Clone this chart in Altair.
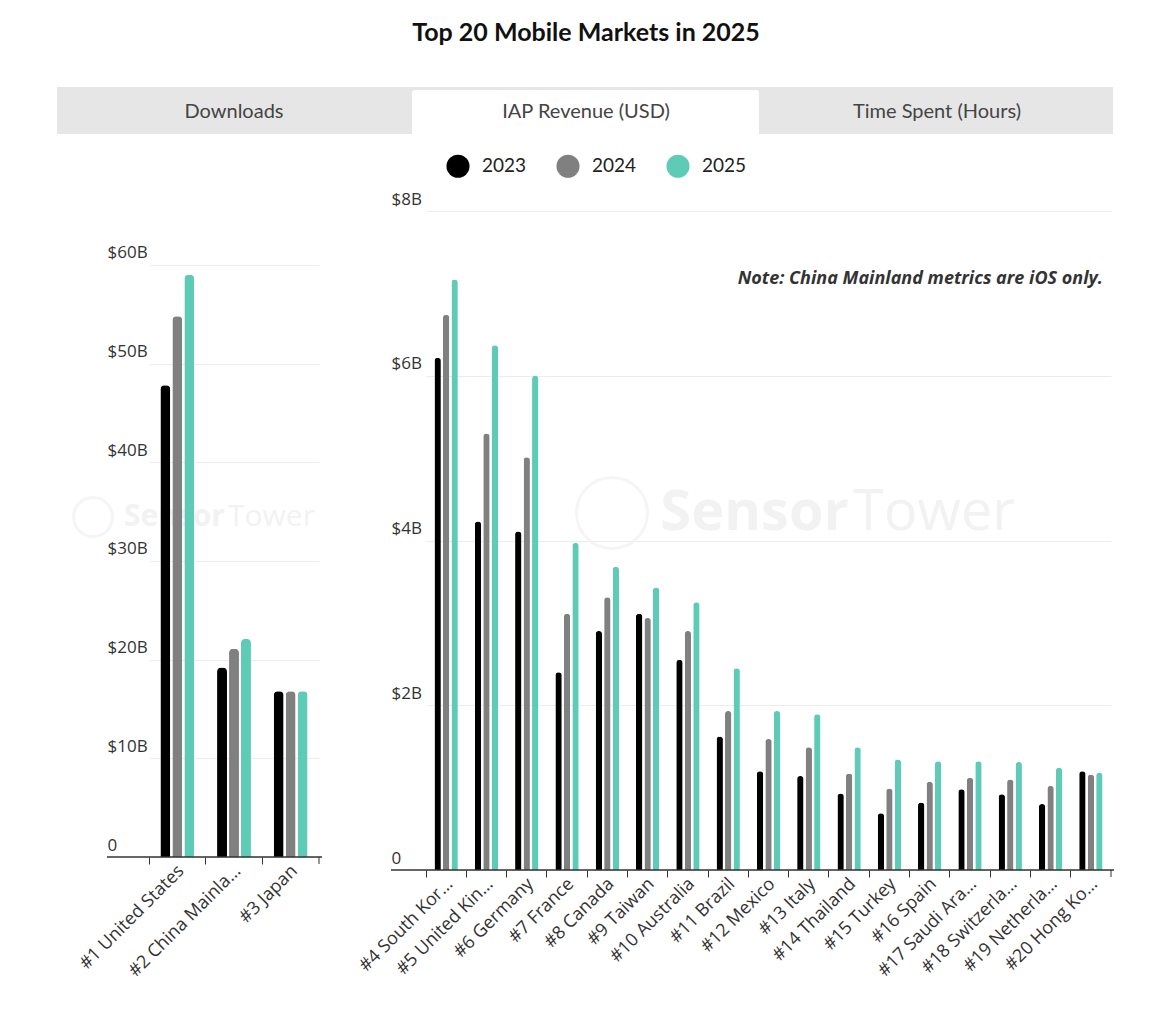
import altair as alt
import pandas as pd

TITLE = "Top 20 Mobile Markets in 2025"
TABS = ["Downloads", "IAP Revenue (USD)", "Time Spent (Hours)"]
NOTE = "Note: China Mainland metrics are iOS only."
YEARS = ["2023", "2024", "2025"]
COLORS = ["#000000", "#808080", "#5ecbb7"]

MARKETS = [
    "#1 United States", "#2 China Mainla…", "#3 Japan",
    "#4 South Kor…", "#5 United Kin…", "#6 Germany", "#7 France", "#8 Canada",
    "#9 Taiwan", "#10 Australia", "#11 Brazil", "#12 Mexico", "#13 Italy",
    "#14 Thailand", "#15 Turkey", "#16 Spain", "#17 Saudi Ara…",
    "#18 Switzerla…", "#19 Netherla…", "#20 Hong Ko…",
]
# IAP revenue, billions USD
REV_2023 = [47.8, 19.2, 16.8, 6.22, 4.23, 4.11, 2.40, 2.90, 3.11, 2.55,
            1.62, 1.20, 1.14, 0.93, 0.69, 0.82, 0.98, 0.92, 0.80, 1.20]
REV_2024 = [54.8, 21.1, 16.8, 6.74, 5.30, 5.01, 3.11, 3.31, 3.06, 2.90,
            1.93, 1.59, 1.49, 1.17, 0.99, 1.07, 1.12, 1.10, 1.02, 1.16]
REV_2025 = [59.0, 22.1, 16.8, 7.17, 6.37, 6.00, 3.97, 3.68, 3.43, 3.25,
            2.45, 1.93, 1.89, 1.49, 1.34, 1.32, 1.32, 1.31, 1.24, 1.18]
LEFT_TICKS = [0, 10, 20, 30, 40, 50, 60]
RIGHT_TICKS = [0, 2, 4, 6, 8]

rows = []
for i, m in enumerate(MARKETS):
    for yr, vals in zip(YEARS, [REV_2023, REV_2024, REV_2025]):
        rows.append({"market": m, "rank": i + 1, "year": yr, "value": vals[i]})
df = pd.DataFrame(rows)
left_df = df[df["rank"] <= 3]
right_df = df[df["rank"] > 3]
LEFT_MARKETS = MARKETS[:3]
RIGHT_MARKETS = MARKETS[3:]

AXIS_FONT = "Open Sans"
HEAD_FONT = "Lato"

legend = alt.Legend(
    orient="none", legendX=339, legendY=-36, direction="horizontal", title=None,
    symbolType="circle", symbolSize=530, symbolStrokeWidth=0, symbolOpacity=1,
    labelFont=HEAD_FONT, labelFontSize=19, labelColor="#222", labelOffset=12,
    columnPadding=29, padding=0,
)


def one(text=""):
    return alt.Chart(pd.DataFrame({"t": [text]}))


def txt(text, x, y, size, color="#333", font=HEAD_FONT, weight="normal",
        style="normal", align="center", baseline="middle"):
    return one(text).mark_text(
        font=font, fontSize=size, fontWeight=weight, fontStyle=style,
        color=color, align=align, baseline=baseline,
    ).encode(text="t:N", x=alt.value(x), y=alt.value(y))


def watermark(cx, cy, ring_x, ring_size, size, gap):
    ring = one().mark_point(shape="circle", filled=False, stroke="#f2f2f2",
                            strokeWidth=3).encode(
        x=alt.value(ring_x), y=alt.value(cy), size=alt.value(ring_size))
    s = txt("Sensor", cx, cy, size, color="#f2f2f2", font=AXIS_FONT,
            weight="bold", align="right")
    t = txt("Tower", cx + gap, cy, size, color="#f2f2f2", font=AXIS_FONT,
            align="left")
    return [ring, s, t]


def panel(data, markets, width, height, ymax, ticks, xrange, radius, pin, pout):
    bars = alt.Chart(data).mark_bar(
        cornerRadiusTopLeft=radius, cornerRadiusTopRight=radius
    ).encode(
        x=alt.X("market:N",
                scale=alt.Scale(domain=markets, range=xrange,
                                paddingInner=0, paddingOuter=0),
                axis=alt.Axis(title=None, domain=False, ticks=True, tickSize=7,
                              tickColor="#333", tickWidth=1, bandPosition=0,
                              labelAngle=-45, labelAlign="right",
                              labelBaseline="middle", labelOffset=4,
                              labelPadding=4, labelFont=AXIS_FONT,
                              labelFontSize=18, labelColor="#333",
                              labelLimit=400, grid=False)),
        xOffset=alt.XOffset("year:N",
                            scale=alt.Scale(domain=YEARS, paddingInner=pin,
                                            paddingOuter=pout)),
        y=alt.Y("value:Q",
                scale=alt.Scale(domain=[0, ymax], nice=False, zero=True),
                axis=alt.Axis(title=None, values=ticks, grid=True,
                              gridColor="#ececec", domain=False, ticks=False,
                              tickSize=0, labelAlign="left",
                              labelBaseline="alphabetic", labelOffset=-7,
                              labelPadding=0,
                              labelExpr="datum.value == 0 ? '0' : '$' + datum.value + 'B'",
                              labelFont=AXIS_FONT, labelFontSize=17,
                              labelColor="#333")),
        color=alt.Color("year:N", scale=alt.Scale(domain=YEARS, range=COLORS),
                        legend=legend),
    )
    base = one().mark_rule(color="#333", strokeWidth=1.5).encode(
        x=alt.value(0), x2=alt.value(width), y=alt.value(height))
    endtick = one().mark_rule(color="#333", strokeWidth=1).encode(
        x=alt.value(xrange[1]), y=alt.value(height), y2=alt.value(height + 7))
    return bars, base, endtick


# Left panel (plot origin at page ~107,190)
LW, LH = 215, 667
lb, lbase, ltick = panel(left_df, LEFT_MARKETS, LW, LH, 67.6, LEFT_TICKS,
                         [42, 212], 4, 0.17, 0.95)
tabbar = one().mark_rect(color="#e6e6e6").encode(
    x=alt.value(-50), x2=alt.value(1006), y=alt.value(-103), y2=alt.value(-56))
active = one().mark_rect(color="#ffffff", cornerRadiusTopLeft=3,
                         cornerRadiusTopRight=3).encode(
    x=alt.value(305), x2=alt.value(652), y=alt.value(-100), y2=alt.value(-56))
title = txt(TITLE, 479, -169, 25, color="#111", weight="bold", baseline="top")
tab_texts = [txt(TABS[0], 127, -78, 20, color="#444"),
             txt(TABS[1], 479, -78, 20, color="#444"),
             txt(TABS[2], 830, -78, 20, color="#444")]

left = alt.layer(
    *watermark(118, 327, -14, 1520, 30, 3), lb, lbase, ltick,
    tabbar, active, title, *tab_texts
).properties(width=LW, height=LH)

# Right panel (plot origin at page ~391,190)
RW, RH = 723, 680
rb, rbase, rtick = panel(right_df, RIGHT_MARKETS, RW, RH, 8.255, RIGHT_TICKS,
                         [35, 720], 3, 0.25, 1.0)
note = txt(NOTE, 712, 89, 18, color="#333", font=AXIS_FONT, weight="bold",
           style="italic", align="right")
right = alt.layer(
    *watermark(458, 323, 221, 5027, 56, 4), rb, rbase, rtick, note
).properties(width=RW, height=RH)

chart = alt.hconcat(left, right, spacing=69, bounds="flush").resolve_scale(
    xOffset="independent"
).properties(
    padding={"left": 49, "top": 13, "right": 10, "bottom": 10}
).configure_view(stroke=None)

chart.save("out.html", embed_options={"renderer": "svg", "actions": False})
